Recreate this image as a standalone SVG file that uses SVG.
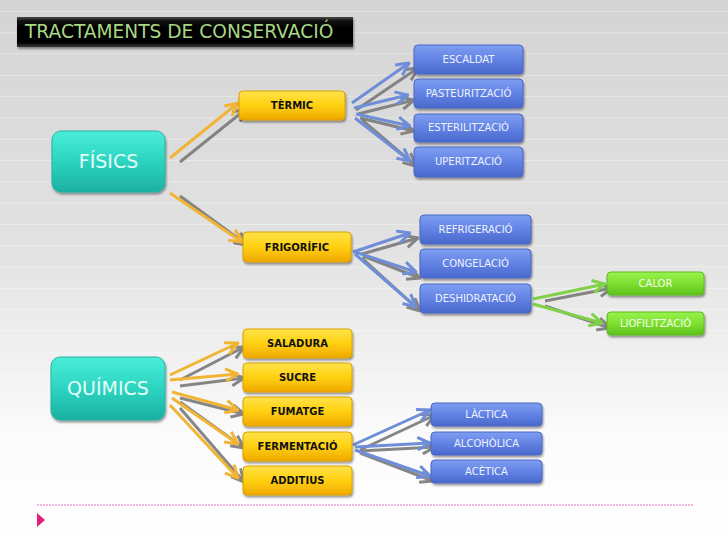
<svg xmlns="http://www.w3.org/2000/svg" width="728" height="546" viewBox="0 0 728 546">
<defs>
  <linearGradient id="bg" x1="0" y1="0" x2="0" y2="1">
    <stop offset="0" stop-color="#d4d4d4"/>
    <stop offset="0.45" stop-color="#e2e2e2"/>
    <stop offset="0.8" stop-color="#fbfbfb"/>
    <stop offset="1" stop-color="#ffffff"/>
  </linearGradient>
  <pattern id="stripes" width="728" height="21.3" patternUnits="userSpaceOnUse" y="11">
    <rect x="0" y="0" width="728" height="1" fill="#ffffff" opacity="0.35"/>
  </pattern>
  <linearGradient id="gTitle" x1="0" y1="0" x2="0" y2="1">
    <stop offset="0" stop-color="#4a4a4a"/>
    <stop offset="0.15" stop-color="#080808"/>
    <stop offset="0.85" stop-color="#000000"/>
    <stop offset="1" stop-color="#3a3a3a"/>
  </linearGradient>
  <linearGradient id="gTeal" x1="0" y1="0" x2="0" y2="1">
    <stop offset="0" stop-color="#4aeed8"/>
    <stop offset="0.5" stop-color="#2cd4c0"/>
    <stop offset="1" stop-color="#1cb0a2"/>
  </linearGradient>
  <linearGradient id="gYellow" x1="0" y1="0" x2="0" y2="1">
    <stop offset="0" stop-color="#ffe34a"/>
    <stop offset="0.5" stop-color="#ffd010"/>
    <stop offset="1" stop-color="#efa800"/>
  </linearGradient>
  <linearGradient id="gBlue" x1="0" y1="0" x2="0" y2="1">
    <stop offset="0" stop-color="#7f9ff2"/>
    <stop offset="0.5" stop-color="#6282e4"/>
    <stop offset="1" stop-color="#4a68cc"/>
  </linearGradient>
  <linearGradient id="gGreen" x1="0" y1="0" x2="0" y2="1">
    <stop offset="0" stop-color="#98f24c"/>
    <stop offset="0.5" stop-color="#7ee030"/>
    <stop offset="1" stop-color="#5cc21c"/>
  </linearGradient>
  <filter id="sh" x="-10%" y="-20%" width="125%" height="150%">
    <feDropShadow dx="1" dy="2" stdDeviation="1.3" flood-color="#000" flood-opacity="0.4"/>
  </filter>
  <marker id="mY" viewBox="0 0 12 12" markerUnits="userSpaceOnUse" markerWidth="15" markerHeight="15" refX="11" refY="6" orient="auto">
    <path d="M1,1 L11,6 L1,11" fill="none" stroke="#f2b434" stroke-width="2.4"/>
  </marker>
  <marker id="mB" viewBox="0 0 12 12" markerUnits="userSpaceOnUse" markerWidth="15" markerHeight="15" refX="11" refY="6" orient="auto">
    <path d="M1,1 L11,6 L1,11" fill="none" stroke="#6f8ed8" stroke-width="2.4"/>
  </marker>
  <marker id="mG" viewBox="0 0 12 12" markerUnits="userSpaceOnUse" markerWidth="15" markerHeight="15" refX="11" refY="6" orient="auto">
    <path d="M1,1 L11,6 L1,11" fill="none" stroke="#80d048" stroke-width="2.4"/>
  </marker>
  <marker id="mK" viewBox="0 0 12 12" markerUnits="userSpaceOnUse" markerWidth="15" markerHeight="15" refX="11" refY="6" orient="auto">
    <path d="M1,1 L11,6 L1,11" fill="none" stroke="#7a7a7a" stroke-width="2.4"/>
  </marker>
</defs>
<style>
  .t { font-family: "DejaVu Sans", Verdana, sans-serif; text-anchor: middle; }
  .title { font-family: "DejaVu Sans", Verdana, sans-serif; font-size: 18.6px; fill: #a9d884; }
  .teal rect { fill: url(#gTeal); stroke: #22b4a4; stroke-width: 1; filter: url(#sh); }
  .teal text { font-size: 19px; fill: #e4fff9; }
  .yel rect { fill: url(#gYellow); stroke: #d9a000; stroke-width: 1; filter: url(#sh); }
  .yel text { font-size: 10px; font-weight: bold; fill: #111; }
  .blu rect { fill: url(#gBlue); stroke: #4a66c4; stroke-width: 1; filter: url(#sh); }
  .blu text { font-size: 10px; fill: #eef2ff; }
  .grn rect { fill: url(#gGreen); stroke: #5cba20; stroke-width: 1; filter: url(#sh); }
  .grn text { font-size: 10px; fill: #f4ffe8; }
  .cy { stroke: #f2b434; stroke-width: 3; fill: none; marker-end: url(#mY); }
  .cb { stroke: #6f8ed8; stroke-width: 3; fill: none; marker-end: url(#mB); }
  .cg { stroke: #80d048; stroke-width: 3; fill: none; marker-end: url(#mG); }
  .ck { stroke: #7a7a7a; stroke-width: 3; fill: none; marker-end: url(#mK); opacity: 0.9; }
</style>

<rect x="0" y="0" width="728" height="546" fill="url(#bg)"/>
<rect x="0" y="0" width="728" height="430" fill="url(#stripes)"/>

<g id="title">
  <rect x="17" y="17" width="336" height="30" fill="url(#gTitle)" filter="url(#sh)"/>
  <text class="title" x="25" y="38">TRACTAMENTS DE CONSERVACIÓ</text>
</g>

<g id="connectors">
  <line class="ck" x1="180" y1="162" x2="246" y2="109"/>
  <line class="cy" x1="170" y1="158" x2="238" y2="103"/>
  <line class="ck" x1="180" y1="196" x2="247" y2="245"/>
  <line class="cy" x1="170" y1="193" x2="242" y2="242"/>
  <line class="ck" x1="356" y1="110" x2="418" y2="68"/>
  <line class="cb" x1="352" y1="103" x2="409" y2="63"/>
  <line class="ck" x1="358" y1="114" x2="414" y2="100"/>
  <line class="cb" x1="354" y1="108" x2="408" y2="95"/>
  <line class="ck" x1="360" y1="118" x2="414" y2="131"/>
  <line class="cb" x1="356" y1="114" x2="410" y2="126"/>
  <line class="ck" x1="362" y1="120" x2="416" y2="166"/>
  <line class="cb" x1="355" y1="118" x2="410" y2="161"/>
  <line class="ck" x1="362" y1="254" x2="418" y2="238"/>
  <line class="cb" x1="353" y1="252" x2="410" y2="233"/>
  <line class="ck" x1="363" y1="256" x2="420" y2="278"/>
  <line class="cb" x1="355" y1="252" x2="416" y2="272"/>
  <line class="ck" x1="362" y1="258" x2="420" y2="311"/>
  <line class="cb" x1="355" y1="254" x2="416" y2="307"/>
  <line class="ck" x1="545" y1="301" x2="612" y2="288"/>
  <line class="cg" x1="533" y1="299" x2="605" y2="284"/>
  <line class="ck" x1="545" y1="306" x2="610" y2="328"/>
  <line class="cg" x1="533" y1="304" x2="602" y2="323"/>
  <line class="ck" x1="180" y1="380" x2="244" y2="347"/>
  <line class="cy" x1="170" y1="375" x2="238" y2="343"/>
  <line class="ck" x1="180" y1="386" x2="244" y2="378"/>
  <line class="cy" x1="170" y1="380" x2="238" y2="374"/>
  <line class="ck" x1="180" y1="398" x2="244" y2="414"/>
  <line class="cy" x1="172" y1="392" x2="238" y2="410"/>
  <line class="ck" x1="180" y1="402" x2="244" y2="448"/>
  <line class="cy" x1="172" y1="398" x2="238" y2="444"/>
  <line class="ck" x1="180" y1="408" x2="244" y2="482"/>
  <line class="cy" x1="170" y1="405" x2="238" y2="478"/>
  <line class="ck" x1="360" y1="450" x2="435" y2="415"/>
  <line class="cb" x1="353" y1="445" x2="430" y2="410"/>
  <line class="ck" x1="360" y1="451" x2="435" y2="447"/>
  <line class="cb" x1="355" y1="447" x2="430" y2="443"/>
  <line class="ck" x1="360" y1="453" x2="433" y2="481"/>
  <line class="cb" x1="355" y1="450" x2="430" y2="476"/>
</g>

<g id="fisics" class="teal t"><rect x="52" y="131" width="113" height="61" rx="9"/><text x="108.5" y="168">FÍSICS</text></g>
<g id="quimics" class="teal t"><rect x="51" y="357" width="114" height="63" rx="9"/><text x="108" y="395">QUÍMICS</text></g>

<g id="termic" class="yel t"><rect x="239" y="91" width="106" height="29" rx="4"/><text x="292" y="109">TÈRMIC</text></g>
<g id="frigorific" class="yel t"><rect x="243" y="232" width="108" height="30" rx="4"/><text x="297" y="251">FRIGORÍFIC</text></g>
<g id="saladura" class="yel t"><rect x="243" y="329" width="109" height="29" rx="4"/><text x="297.5" y="347">SALADURA</text></g>
<g id="sucre" class="yel t"><rect x="243" y="363" width="109" height="29" rx="4"/><text x="297.5" y="381">SUCRE</text></g>
<g id="fumatge" class="yel t"><rect x="243" y="397" width="109" height="29" rx="4"/><text x="297.5" y="415">FUMATGE</text></g>
<g id="fermentacio" class="yel t"><rect x="243" y="432" width="109" height="29" rx="4"/><text x="297.5" y="450">FERMENTACIÓ</text></g>
<g id="additius" class="yel t"><rect x="243" y="466" width="109" height="29" rx="4"/><text x="297.5" y="484">ADDITIUS</text></g>

<g id="escaldat" class="blu t"><rect x="414" y="45" width="109" height="29" rx="4"/><text x="468.5" y="63">ESCALDAT</text></g>
<g id="pasteuritzacio" class="blu t"><rect x="414" y="79" width="109" height="29" rx="4"/><text x="468.5" y="97">PASTEURITZACIÓ</text></g>
<g id="esterilitzacio" class="blu t"><rect x="414" y="114" width="109" height="28" rx="4"/><text x="468.5" y="131">ESTERILITZACIÓ</text></g>
<g id="uperitzacio" class="blu t"><rect x="414" y="147" width="109" height="30" rx="4"/><text x="468.5" y="165">UPERITZACIÓ</text></g>

<g id="refrigeracio" class="blu t"><rect x="420" y="215" width="111" height="29" rx="4"/><text x="475.5" y="233">REFRIGERACIÓ</text></g>
<g id="congelacio" class="blu t"><rect x="420" y="249" width="111" height="29" rx="4"/><text x="475.5" y="267">CONGELACIÓ</text></g>
<g id="deshidratacio" class="blu t"><rect x="420" y="284" width="111" height="29" rx="4"/><text x="475.5" y="302">DESHIDRATACIÓ</text></g>

<g id="calor" class="grn t"><rect x="607" y="272" width="97" height="23" rx="4"/><text x="655.5" y="287">CALOR</text></g>
<g id="liofilitzacio" class="grn t"><rect x="607" y="312" width="97" height="23" rx="4"/><text x="655.5" y="327">LIOFILITZACIÓ</text></g>

<g id="lactica" class="blu t"><rect x="431" y="403" width="111" height="23" rx="4"/><text x="486.5" y="418">LÀCTICA</text></g>
<g id="alcoholica" class="blu t"><rect x="431" y="432" width="111" height="23" rx="4"/><text x="486.5" y="447">ALCOHÒLICA</text></g>
<g id="acetica" class="blu t"><rect x="431" y="460" width="111" height="23" rx="4"/><text x="486.5" y="475">ACÈTICA</text></g>

<g id="footer">
  <line x1="37" y1="505" x2="693" y2="505" stroke="#e070c0" stroke-width="1" stroke-dasharray="2 1"/>
  <polygon points="37,513 45,520 37,527" fill="#e0207a"/>
</g>
</svg>
